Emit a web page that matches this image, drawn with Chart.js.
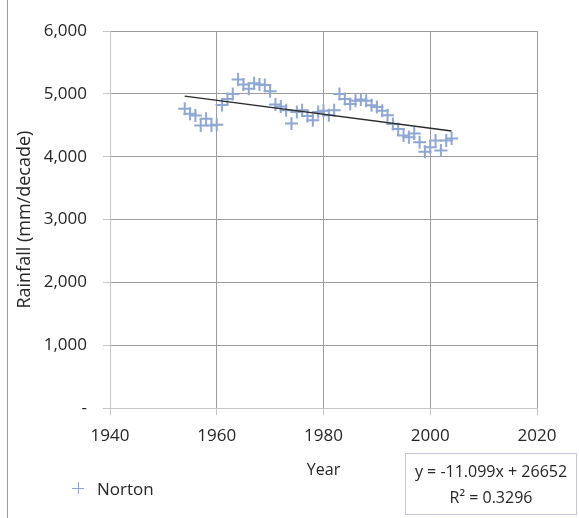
<!DOCTYPE html>
<html>
<head>
<meta charset="utf-8">
<script src="https://cdn.jsdelivr.net/npm/chart.js@4.4.1/dist/chart.umd.min.js"></script>
<style>
  html, body { margin: 0; padding: 0; background: #ffffff; }
  #wrap { position: relative; width: 579px; height: 518px; overflow: hidden; font-family: "Open Sans", sans-serif; color: #262626; }
  #c { position: absolute; left: 0; top: 0; }
  #frame { position: absolute; left: 7px; top: 0; width: 1px; height: 518px; background: #9a9a9a; }
  #legend { position: absolute; left: 72px; top: 476px; height: 24px; display: flex; align-items: center; font-size: 17px; }
  #legend .mk { position: relative; width: 12px; height: 12px; margin-right: 13px; }
  #legend .mk .h { position: absolute; left: 0; top: 5.5px; width: 12px; height: 1px; background: #8da5d2; }
  #legend .mk .v { position: absolute; left: 5.5px; top: 0; width: 1px; height: 12px; background: #8da5d2; }
  #eq { position: absolute; left: 405px; top: 453px; width: 172px; height: 62px; border: 1px solid #c9c4dc; box-sizing: border-box; font-size: 16px; text-align: center; line-height: 26px; padding-top: 4px; white-space: nowrap; }
</style>
</head>
<body>
<div id="wrap">
  <canvas id="c" width="579" height="518"></canvas>
  <div id="frame"></div>
  <div id="legend"><div class="mk"><div class="h"></div><div class="v"></div></div><span id="legendText"></span></div>
  <div id="eq"><div id="eq1"></div><div id="eq2"></div></div>
</div>
<script>
// ---- data ----
const seriesName = 'Norton';
const years = [1954,1955,1956,1957,1958,1959,1960,1961,1962,1963,
               1964,1965,1966,1967,1968,1969,1970,1971,1972,1973,
               1974,1975,1976,1977,1978,1979,1980,1981,1982,1983,
               1984,1985,1986,1987,1988,1989,1990,1991,1992,1993,
               1994,1995,1996,1997,1998,1999,2000,2001,2002,2003,2004];
const rainfall = [4762,4683,4655,4497,4603,4497,4508,4825,4920,5000,
                  5230,5150,5080,5170,5150,5140,5040,4830,4800,4740,
                  4530,4710,4740,4650,4580,4710,4730,4660,4740,5000,
                  4920,4840,4890,4910,4890,4820,4790,4730,4660,4520,
                  4440,4340,4310,4370,4230,4080,4150,4260,4100,4260,4290];
const xTickValues = [1940,1960,1980,2000,2020];
const yTickValues = [0,1000,2000,3000,4000,5000,6000];
const trendSlope = -11.099;
const trendIntercept = 26652;
const trendR2 = 0.3296;
const xTitle = 'Year';
const yTitle = 'Rainfall (mm/decade)';

// ---- build ----
const points = years.map((y, i) => ({ x: y, y: rainfall[i] }));
const x0 = years[0], x1 = years[years.length - 1];
const trend = [
  { x: x0, y: trendSlope * x0 + trendIntercept },
  { x: x1, y: trendSlope * x1 + trendIntercept }
];

document.getElementById('legendText').textContent = seriesName;
document.getElementById('eq1').textContent = 'y = ' + trendSlope + 'x + ' + trendIntercept;
document.getElementById('eq2').textContent = 'R\u00B2 = ' + trendR2;

const FONT = '"Open Sans", sans-serif';
const gridCol = '#9c9c9c';
const axisCol = '#c6c6c6';

new Chart(document.getElementById('c'), {
  type: 'scatter',
  data: {
    datasets: [
      { label: 'trend', data: trend, showLine: true, borderColor: '#2b2b2b', borderWidth: 1.4,
        pointRadius: 0, pointHoverRadius: 0, order: 0 },
      { label: seriesName, data: points, showLine: false, pointStyle: 'cross', pointRadius: 6.5,
        pointBorderWidth: 2, pointBorderColor: '#8ea7d3', pointBackgroundColor: '#8ea7d3', order: 1 }
    ]
  },
  options: {
    responsive: false,
    animation: false,
    events: [],
    layout: { padding: { top: 31, right: 42, left: 0, bottom: 0 } },
    plugins: { legend: { display: false }, tooltip: { enabled: false } },
    scales: {
      x: {
        type: 'linear', min: 1940, max: 2020,
        afterBuildTicks: s => { s.ticks = xTickValues.map(v => ({ value: v })); },
        afterFit: s => { s.height = 109.7; },
        grid: { color: c => (c.tick && c.tick.value === 1940) ? axisCol : gridCol, lineWidth: 1, tickLength: 7, tickColor: axisCol },
        border: { color: axisCol, width: 1 },
        ticks: { padding: 11, color: '#262626', font: { family: FONT, size: 17 }, callback: v => String(v), maxRotation: 0 },
        title: { display: true, text: xTitle, color: '#262626', font: { family: FONT, size: 16 }, padding: { top: 0, bottom: 38 } }
      },
      y: {
        min: 0, max: 6000,
        afterBuildTicks: s => { s.ticks = yTickValues.map(v => ({ value: v })); },
        afterFit: s => { s.width = 110; },
        grid: { color: c => (c.tick && c.tick.value === 0) ? axisCol : gridCol, lineWidth: 1, tickLength: 7, tickColor: axisCol },
        border: { color: axisCol, width: 1 },
        ticks: { padding: 16, color: '#262626', font: { family: FONT, size: 17 },
                 callback: v => v === 0 ? '-' : Number(v).toLocaleString('en-US') },
        title: { display: true, text: yTitle, color: '#262626', font: { family: FONT, size: 18 }, padding: { top: 14, bottom: 0 } }
      }
    }
  }
});
</script>
</body>
</html>
